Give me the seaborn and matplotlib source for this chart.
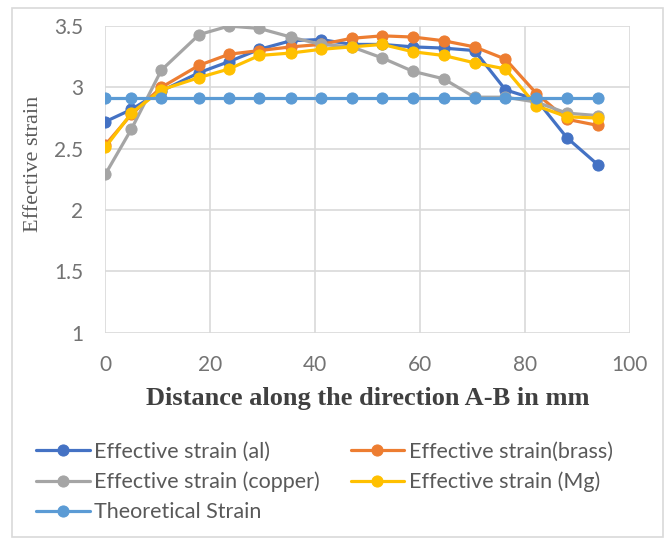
import matplotlib
matplotlib.use("Agg")
import matplotlib.pyplot as plt
from matplotlib.patches import Rectangle
import seaborn as sns
import pandas as pd

distance = [0, 5, 10.7, 17.9, 23.6, 29.4, 35.4, 41.1, 47, 52.8, 58.7, 64.5, 70.4, 76.3, 82.2, 88, 93.9]

strain_al = [2.72, 2.82, 2.97, 3.12, 3.21, 3.31, 3.38, 3.39, 3.35, 3.35, 3.33, 3.32, 3.30, 2.98, 2.90, 2.59, 2.37]
strain_brass = [2.53, 2.78, 3.00, 3.18, 3.27, 3.30, 3.33, 3.35, 3.40, 3.42, 3.41, 3.38, 3.33, 3.23, 2.95, 2.74, 2.69]
strain_copper = [2.29, 2.66, 3.14, 3.43, 3.50, 3.48, 3.41, 3.35, 3.33, 3.24, 3.13, 3.07, 2.92, 2.92, 2.88, 2.79, 2.77]
strain_mg = [2.51, 2.79, 2.98, 3.08, 3.15, 3.26, 3.28, 3.31, 3.33, 3.35, 3.29, 3.26, 3.20, 3.15, 2.85, 2.76, 2.75]
strain_theory = [2.91] * 17

labels = ["Effective strain (al)", "Effective strain(brass)", "Effective strain (copper)",
          "Effective strain (Mg)", "Theoretical Strain"]
colors = ["#4472C4", "#ED7D31", "#A5A5A5", "#FFC000", "#5B9BD5"]
series = [strain_al, strain_brass, strain_copper, strain_mg, strain_theory]

sns.set_style("whitegrid", {"grid.color": "#D9D9D9"})
plt.rcParams['font.family'] = ['Lato', 'DejaVu Sans']

fig = plt.figure(figsize=(6.7, 5.42), dpi=100)
ax = fig.add_axes([0.157, 0.386, 0.783, 0.566])

handles = []
for lab, col, vals in zip(labels, colors, series):
    df = pd.DataFrame({"x": distance, "y": vals})
    sns.lineplot(data=df, x="x", y="y", ax=ax, color=col, marker="o", markersize=8,
                 markeredgecolor=col, linewidth=2.3, label=lab, legend=False)
    handles.append(ax.lines[-1])

ax.set_xlim(0, 100)
ax.set_ylim(1, 3.5)
ax.set_xticks([0, 20, 40, 60, 80, 100])
ax.set_yticks([1, 1.5, 2, 2.5, 3, 3.5])
ax.set_yticklabels(["1", "1.5", "2", "2.5", "3", "3.5"])
ax.tick_params(colors="#737373", labelsize=15, length=0, pad=16)
for s in ax.spines.values():
    s.set_visible(False)
ax.grid(True, color="#D9D9D9", linewidth=1.2)

ax.set_ylabel("Effective strain", family="Liberation Serif", fontsize=16, color="#595959",
              va="center", ha="center")
ax.yaxis.set_label_coords(-0.137, 0.55)
ax.set_xlabel("Distance along the direction A-B in mm", family="Liberation Serif",
              fontsize=19, fontweight="bold", color="#404040", va="center")
ax.xaxis.set_label_coords(0.5, -0.215)

order = [0, 2, 4, 1, 3]
leg = fig.legend([handles[i] for i in order], [labels[i] for i in order], ncol=2,
                 loc="upper left", bbox_to_anchor=(0.025, 0.221), frameon=False,
                 fontsize=15.5, handlelength=2.5, handletextpad=0.2, columnspacing=1.42,
                 labelspacing=0.47, labelcolor="#595959")

fig.patches.append(Rectangle((0.018, 0.009), 0.972, 0.976, transform=fig.transFigure,
                             fill=False, edgecolor="#D9D9D9", linewidth=1.2))

fig.savefig("out.png", dpi=100)
